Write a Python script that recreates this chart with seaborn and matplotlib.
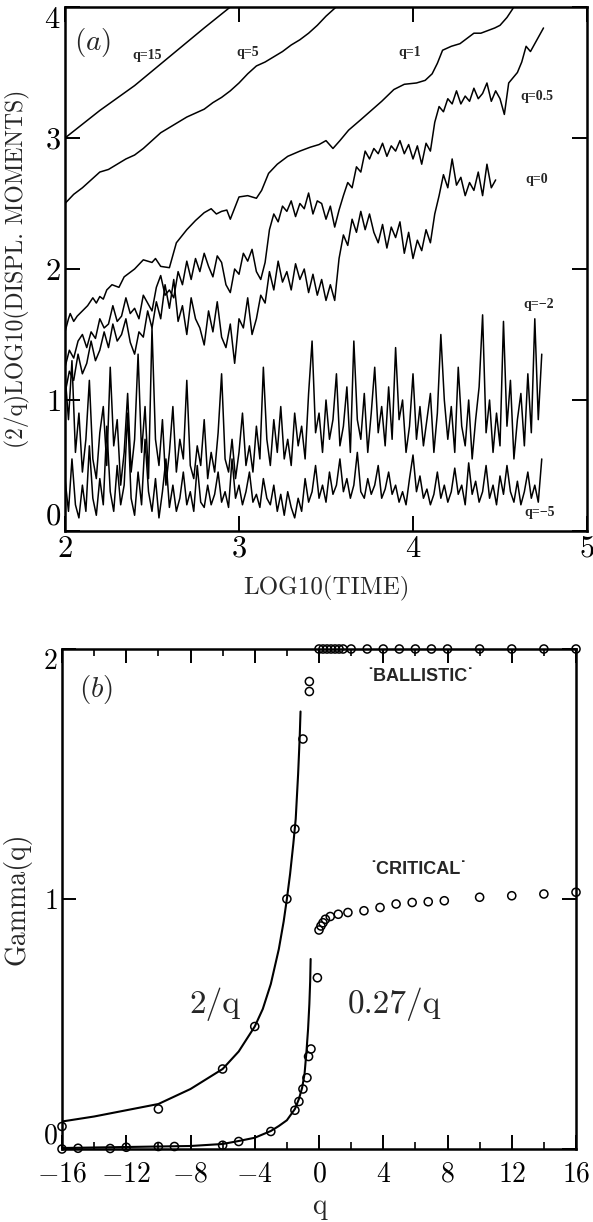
#!/usr/bin/env python3
# -*- coding: utf-8 -*-
'''
Displacement moments vs time (a) and the moment exponent Gamma(q) (b)
'''
import numpy as np
import seaborn as sns
import matplotlib.pyplot as plt
from matplotlib.ticker import MultipleLocator

# ---------------- panel (a) data : (2/q) log10 <|x|^q> vs log10(t)
Q15_T = [2.0, 2.2, 2.4, 2.6, 2.8, 2.95, 3.0]
Q15_Y = [3.0, 3.21, 3.40, 3.62, 3.84, 4.0, 4.06]

Q5_T = [2.00, 2.05, 2.10, 2.15, 2.20, 2.25, 2.30, 2.35, 2.40, 2.45, 2.50,
        2.55, 2.60, 2.65, 2.70, 2.75, 2.80, 2.85, 2.90, 2.95, 3.00, 3.05,
        3.10, 3.15, 3.20, 3.25, 3.30, 3.35, 3.40, 3.45, 3.50, 3.55, 3.60]
Q5_Y = [2.50, 2.57, 2.62, 2.68, 2.74, 2.76, 2.80, 2.84, 2.87, 2.92, 2.98,
        3.04, 3.08, 3.12, 3.16, 3.19, 3.22, 3.27, 3.31, 3.36, 3.42, 3.49,
        3.55, 3.58, 3.62, 3.66, 3.71, 3.75, 3.80, 3.86, 3.93, 3.99, 4.05]

Q1_T = [2.00, 2.02, 2.03, 2.05, 2.07, 2.10, 2.13, 2.16, 2.18, 2.20, 2.22,
        2.24, 2.27, 2.31, 2.34, 2.37, 2.40, 2.45, 2.50, 2.52, 2.55, 2.60,
        2.64, 2.70, 2.75, 2.80, 2.84, 2.87, 2.90, 2.93, 2.95, 3.00, 3.05,
        3.10, 3.13, 3.17, 3.22, 3.28, 3.35, 3.41, 3.46, 3.50, 3.54, 3.58,
        3.63, 3.70, 3.76, 3.82, 3.89, 3.95, 4.02, 4.07, 4.11, 4.14, 4.17,
        4.22, 4.27, 4.31, 4.35, 4.39, 4.43, 4.47, 4.50, 4.54, 4.58, 4.62]
Q1_Y = [1.52, 1.62, 1.66, 1.60, 1.64, 1.68, 1.72, 1.78, 1.74, 1.79, 1.77,
        1.84, 1.88, 1.86, 1.94, 1.97, 2.00, 2.07, 2.05, 2.08, 2.02, 2.01,
        2.20, 2.30, 2.37, 2.43, 2.46, 2.42, 2.44, 2.45, 2.38, 2.55, 2.56,
        2.54, 2.60, 2.73, 2.80, 2.86, 2.90, 2.93, 2.95, 2.98, 2.92, 2.98,
        3.06, 3.14, 3.21, 3.28, 3.37, 3.41, 3.42, 3.44, 3.49, 3.57, 3.67,
        3.70, 3.72, 3.76, 3.80, 3.80, 3.82, 3.84, 3.86, 3.92, 4.00, 4.05]

# q = 0.5, sampled every 0.025 in log10(time) from 2.0 to 4.75
Q05_RANGE = (2.0, 4.75)
Q05_Y = [1.25, 1.38, 1.32, 1.45, 1.50, 1.40, 1.52, 1.47, 1.62, 1.55,
         1.58, 1.72, 1.60, 1.64, 1.78, 1.66, 1.70, 1.62, 1.80, 1.74,
         1.68, 1.86, 1.95, 1.80, 1.84, 1.78, 1.98, 1.88, 2.06, 1.92,
         2.08, 1.98, 2.12, 2.02, 1.94, 2.10, 2.05, 1.88, 1.82, 2.00,
         1.96, 2.12, 2.06, 2.15, 1.98, 1.92, 2.05, 2.30, 2.42, 2.36,
         2.48, 2.44, 2.52, 2.40, 2.50, 2.46, 2.58, 2.42, 2.52, 2.50,
         2.38, 2.48, 2.32, 2.45, 2.56, 2.66, 2.62, 2.78, 2.74, 2.90,
         2.84, 2.92, 2.88, 2.96, 2.86, 2.94, 2.90, 2.98, 2.88, 2.95,
         2.84, 2.94, 2.80, 2.96, 2.90, 3.12, 3.24, 3.20, 3.30, 3.26,
         3.36, 3.26, 3.32, 3.28, 3.38, 3.30, 3.34, 3.42, 3.28, 3.36,
         3.30, 3.18, 3.42, 3.46, 3.50, 3.58, 3.70, 3.66, 3.72, 3.78,
         3.84]

# q = 0, every 0.025 from 2.0 to 4.475
Q0_RANGE = (2.0, 4.475)
Q0_Y = [1.05, 1.22, 1.15, 1.35, 1.20, 1.28, 1.45, 1.30, 1.38, 1.52,
        1.40, 1.58, 1.45, 1.50, 1.62, 1.44, 1.35, 1.52, 1.48, 1.68,
        1.55, 1.75, 1.62, 1.88, 1.70, 1.92, 1.60, 1.72, 1.50, 1.78,
        1.62, 1.55, 1.42, 1.68, 1.52, 1.75, 1.48, 1.40, 1.58, 1.28,
        1.62, 1.55, 1.78, 1.50, 1.62, 1.80, 1.74, 1.98, 1.84, 2.06,
        1.90, 1.98, 1.84, 2.04, 1.92, 2.00, 1.82, 1.96, 1.80, 1.92,
        1.76, 1.88, 1.76, 2.08, 2.26, 2.18, 2.38, 2.28, 2.44, 2.30,
        2.42, 2.28, 2.20, 2.34, 2.16, 2.32, 2.24, 2.36, 2.12, 2.28,
        2.08, 2.22, 2.14, 2.30, 2.20, 2.42, 2.56, 2.72, 2.62, 2.84,
        2.64, 2.70, 2.56, 2.66, 2.60, 2.74, 2.56, 2.80, 2.62, 2.68]

# q = -2 and q = -5, every 0.02 from 2.0 to 4.74
QM_RANGE = (2.0, 4.74)
QM2_Y = [1.20, 0.85, 1.30, 0.60, 0.90, 0.45, 0.70, 1.15, 0.55, 0.40,
         0.75, 0.95, 0.50, 1.25, 0.65, 0.85, 0.35, 0.60, 1.05, 0.45,
         0.70, 1.35, 0.60, 0.95, 0.40, 1.55, 0.70, 0.50, 0.85, 0.35,
         0.60, 0.95, 0.45, 0.70, 0.55, 1.15, 0.50, 0.40, 0.65, 0.50,
         0.85, 0.40, 0.60, 0.45, 0.75, 1.20, 0.55, 0.45, 0.70, 0.40,
         0.60, 0.90, 0.50, 0.65, 0.45, 0.80, 0.55, 1.25, 0.70, 0.50,
         0.85, 0.60, 0.95, 0.55, 0.70, 0.50, 0.90, 0.65, 0.80, 0.55,
         1.05, 1.45, 0.75, 0.90, 0.60, 1.00, 0.70, 0.85, 1.20, 0.65,
         0.80, 1.10, 0.60, 1.45, 0.85, 0.70, 1.05, 0.60, 0.90, 1.25,
         0.75, 0.95, 0.65, 1.10, 0.70, 1.40, 0.85, 1.00, 0.60, 0.80,
         1.20, 0.70, 0.95, 0.65, 0.85, 1.05, 0.60, 0.90, 1.50, 1.00,
         0.70, 0.95, 0.60, 1.25, 0.80, 0.65, 1.00, 0.55, 0.85, 1.10,
         1.65, 0.75, 1.00, 0.60, 0.90, 0.65, 1.60, 0.80, 1.15, 0.55,
         0.85, 1.05, 0.65, 1.20, 0.75, 1.62, 0.85, 1.35]
QM5_Y = [0.40, 0.15, 0.55, 0.20, 0.10, 0.35, 0.15, 0.65, 0.25, 0.12,
         0.40, 0.20, 0.80, 0.30, 0.15, 0.50, 0.20, 0.35, 0.90, 0.25,
         0.12, 0.45, 0.20, 0.70, 0.30, 0.15, 0.40, 0.10, 0.30, 0.55,
         0.18, 0.35, 0.15, 0.25, 0.45, 0.20, 0.30, 0.15, 0.50, 0.22,
         0.18, 0.35, 0.20, 0.28, 0.45, 0.22, 0.30, 0.18, 0.55, 0.25,
         0.35, 0.20, 0.30, 0.45, 0.22, 0.28, 0.18, 0.40, 0.25, 0.20,
         0.35, 0.15, 0.28, 0.12, 0.30, 0.18, 0.10, 0.25, 0.15, 0.40,
         0.22, 0.30, 0.50, 0.25, 0.35, 0.22, 0.45, 0.28, 0.35, 0.55,
         0.30, 0.40, 0.25, 0.35, 0.60, 0.30, 0.25, 0.40, 0.28, 0.35,
         0.50, 0.25, 0.32, 0.45, 0.28, 0.35, 0.22, 0.30, 0.20, 0.40,
         0.58, 0.30, 0.42, 0.25, 0.32, 0.20, 0.28, 0.45, 0.25, 0.35,
         0.22, 0.30, 0.48, 0.28, 0.35, 0.20, 0.52, 0.28, 0.38, 0.22,
         0.30, 0.50, 0.25, 0.35, 0.20, 0.42, 0.28, 0.50, 0.30, 0.22,
         0.38, 0.20, 0.30, 0.45, 0.25, 0.35, 0.22, 0.55]

# curve labels: (text, log10 t, y)
A_LABELS = [("q=15", 2.47, 3.63), ("q=5", 3.05, 3.65), ("q=1", 3.98, 3.65),
            ("q=0.5", 4.71, 3.32), ("q=0", 4.71, 2.68),
            ("q=\u22122", 4.72, 1.73), ("q=\u22125", 4.73, 0.14)]

# ---------------- panel (b) data : Gamma(q)
FIT2_Q = [-16, -14, -12, -10, -8, -6, -5, -4, -3.5, -3, -2.5, -2.2,
          -2.0, -1.8, -1.6, -1.45, -1.3, -1.2, -1.15]
FIT2_G = [0.11, 0.13, 0.155, 0.18, 0.24, 0.32, 0.39, 0.49, 0.56, 0.66,
          0.80, 0.91, 1.0, 1.1, 1.22, 1.32, 1.50, 1.65, 1.75]

FIT027_Q = [-16, -12, -8, -6, -5, -4, -3, -2.5, -2, -1.5, -1.25, -1.05,
            -0.9, -0.78, -0.68, -0.6, -0.55, -0.52]
FIT027_G = [0.004, 0.008, 0.012, 0.02, 0.032, 0.045, 0.072, 0.092, 0.115,
            0.16, 0.20, 0.245, 0.30, 0.39, 0.48, 0.58, 0.67, 0.76]

UPPER_Q = [-16, -10, -6, -4, -2, -1.5, -1.0, -0.6, -0.6]
UPPER_G = [0.09, 0.16, 0.32, 0.49, 1.0, 1.28, 1.64, 1.83, 1.87]

LOWER_Q = [-16, -15, -13, -12, -10, -9, -6, -5, -3, -1.5, -1.25, -1.0,
           -0.75, -0.65, -0.5, -0.1]
LOWER_G = [0.0, 0.003, 0.002, 0.007, 0.01, 0.01, 0.015, 0.03, 0.07, 0.155,
           0.19, 0.24, 0.285, 0.37, 0.40, 0.685]

CRIT_Q = [0, 0.12, 0.25, 0.4, 0.7, 1.2, 1.8, 2.8, 3.8, 4.8, 5.8, 6.8, 7.8,
          10, 12, 14, 16]
CRIT_G = [0.876, 0.892, 0.905, 0.919, 0.93, 0.939, 0.946, 0.953, 0.966,
          0.98, 0.986, 0.989, 0.993, 1.007, 1.013, 1.02, 1.027]

BALL_Q = [0, 0.25, 0.5, 0.75, 1.0, 1.25, 1.5, 2, 3, 4, 5, 6, 7, 8, 10, 12,
          14, 16]
BALL_G = [2.0] * len(BALL_Q)


sns.set_theme(style="ticks", rc={"axes.edgecolor": "black",
                                 "axes.linewidth": 1.8,
                                 "xtick.color": "black",
                                 "ytick.color": "black"})
plt.rcParams["font.family"] = ["cmr10", "DejaVu Serif"]
plt.rcParams["mathtext.fontset"] = "cm"
plt.rcParams["axes.formatter.use_mathtext"] = True
plt.rcParams["axes.unicode_minus"] = False

fig = plt.figure(figsize=(5.93, 12.22), dpi=100)
ax1 = fig.add_axes([65 / 593, 1 - 531 / 1222, 522 / 593, 524 / 1222])
ax2 = fig.add_axes([62 / 593, 1 - 1149 / 1222, 514 / 593, 500 / 1222])

line_kw = dict(color="black", linewidth=1.1, sort=False, estimator=None,
               legend=False)

# ---- (a)
for t, y in [(Q15_T, Q15_Y), (Q5_T, Q5_Y), (Q1_T, Q1_Y)]:
    sns.lineplot(x=t, y=y, ax=ax1, **line_kw)
for rng, y in [(Q05_RANGE, Q05_Y), (Q0_RANGE, Q0_Y),
               (QM_RANGE, QM2_Y), (QM_RANGE, QM5_Y)]:
    t = np.linspace(rng[0], rng[1], len(y))
    sns.lineplot(x=t, y=y, ax=ax1, **line_kw)

for txt, x, y in A_LABELS:
    ax1.text(x, y, txt, ha="center", va="center", fontsize=10,
             family=["Liberation Serif"], weight="bold")
ax1.text(2.16, 3.73, r"$(a)$", ha="center", va="center", fontsize=21)

ax1.set_xlim(2, 5)
ax1.set_ylim(0, 4)
ax1.set_xticks([2, 3, 4, 5])
ax1.set_xticklabels([f"${v}$" for v in [2, 3, 4, 5]])
ax1.set_yticks([0, 1, 2, 3, 4])
ax1.set_yticklabels([f"${v}$" for v in [0, 1, 2, 3, 4]])
ax1.tick_params(axis="both", direction="in", length=11, width=1.4,
                top=True, right=True, labelsize=22, pad=3)
# end labels sit inside the frame, as in the scan
ax1.get_yticklabels()[0].set_va("bottom")
ax1.get_yticklabels()[-1].set_va("top")
ax1.set_xlabel("LOG10(TIME)", fontsize=18)
ax1.set_ylabel("(2/q)LOG10(DISPL. MOMENTS)", fontsize=17)
ax1.xaxis.set_label_coords(0.5, -0.085)
ax1.yaxis.set_label_coords(-0.068, 0.5)

# ---- (b)
fit_kw = dict(color="black", linewidth=1.5, sort=False, estimator=None,
              legend=False)
sns.lineplot(x=FIT2_Q, y=FIT2_G, ax=ax2, **fit_kw)
sns.lineplot(x=FIT027_Q, y=FIT027_G, ax=ax2, **fit_kw)

pt_kw = dict(marker="o", s=34, facecolors="none", edgecolors="black",
             linewidth=1.1, clip_on=False, zorder=5, legend=False)
for q, g in [(UPPER_Q, UPPER_G), (LOWER_Q, LOWER_G), (CRIT_Q, CRIT_G),
             (BALL_Q, BALL_G)]:
    sns.scatterplot(x=q, y=g, ax=ax2, **pt_kw)

ax2.text(-13.9, 1.84, r"$(b)$", ha="center", va="center", fontsize=21)
ax2.text(6.3, 1.89, "\u02d9BALLISTIC\u02d9", ha="center", va="center",
         fontsize=13, family=["Liberation Sans"], weight="bold")
ax2.text(6.2, 1.12, "\u02d9CRITICAL\u02d9", ha="center", va="center",
         fontsize=13, family=["Liberation Sans"], weight="bold")
ax2.text(-6.5, 0.58, "2/q", ha="center", va="center", fontsize=24)
ax2.text(4.7, 0.58, "0.27/q", ha="center", va="center", fontsize=24)

ax2.set_xlim(-16, 16)
ax2.set_ylim(0, 2)
ticks_b = list(range(-16, 17, 4))
ax2.set_xticks(ticks_b)
ax2.set_xticklabels([f"${v}$" for v in ticks_b])
ax2.xaxis.set_minor_locator(MultipleLocator(2))
ax2.set_yticks([0, 1, 2])
ax2.set_yticklabels([f"${v}$" for v in [0, 1, 2]])
ax2.tick_params(axis="both", which="major", direction="in", length=10,
                width=1.4, top=True, right=True, labelsize=20, pad=3)
ax2.tick_params(axis="x", which="major", pad=9)
ax2.tick_params(axis="x", which="minor", direction="in", length=5,
                width=1.2, top=True)
ax2.get_yticklabels()[0].set_va("bottom")
ax2.get_yticklabels()[-1].set_va("top")
ax2.set_xlabel("q", fontsize=20)
ax2.set_ylabel("Gamma(q)", fontsize=20)
ax2.xaxis.set_label_coords(0.5, -0.09)
ax2.yaxis.set_label_coords(-0.06, 0.5)

fig.savefig("out.png", dpi=100)
